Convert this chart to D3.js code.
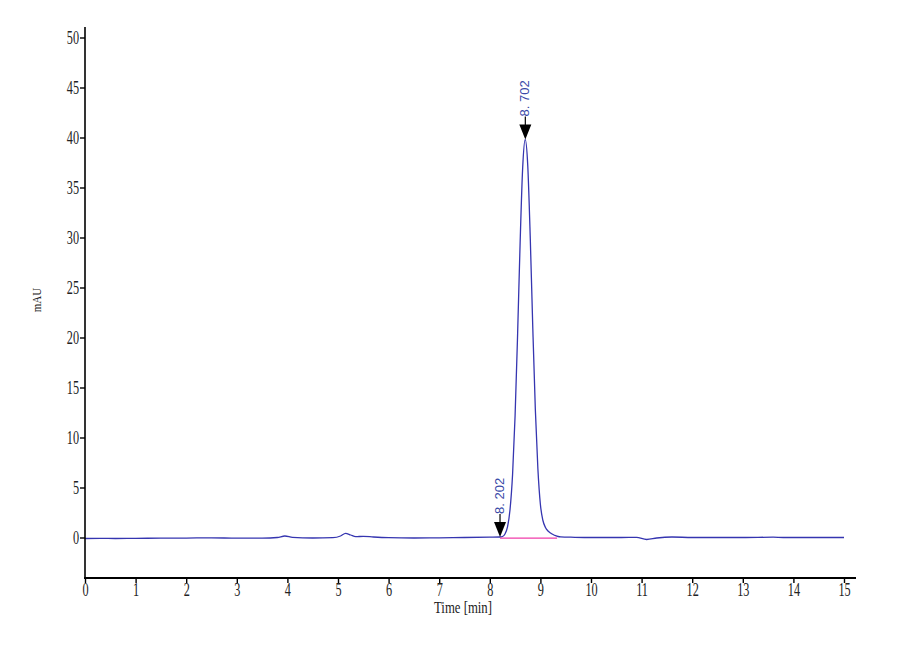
<!DOCTYPE html>
<html><head><meta charset="utf-8">
<script src="https://cdn.jsdelivr.net/npm/d3@7"></script>
<style>body{margin:0;background:#fff}svg{display:block}</style>
</head><body>
<svg id="c" width="900" height="660"></svg>
<script>
// Data
const times = [0,0.3,0.6,1.0,1.5,2.0,2.5,3.0,3.5,3.8,3.95,4.1,4.5,4.9,5.05,5.15,5.25,5.35,5.5,5.7,6.0,6.5,7.0,7.5,8.0,8.2,
  8.25,8.3,8.35,8.4,8.45,8.5,8.55,8.6,8.65,8.7,8.75,8.8,8.85,8.9,8.95,9.0,9.05,9.1,9.15,9.2,9.25,9.3,9.35,9.4,9.5,9.6,
  10.0,10.6,10.9,11.1,11.3,11.6,12.0,13.0,13.6,13.8,15.0];
const signal = [-0.1,-0.08,-0.1,-0.08,-0.07,-0.06,-0.03,-0.07,-0.06,0.0,0.15,0.02,-0.05,-0.02,0.15,0.42,0.25,0.08,0.12,0.05,-0.02,-0.05,-0.03,0.0,0.03,0.05,
  0.1,0.35,1.07,2.8,6.3,12.2,20.4,29.6,37.0,39.8,37.2,29.9,20.9,12.8,6.9,3.3,1.7,1.0,0.65,0.45,0.3,0.18,0.1,0.06,0.04,0.03,
  0.0,0.0,0.02,-0.2,-0.05,0.05,0.0,0.0,0.03,0.0,0.0];
const peakTimes = [8.202, 8.702];
const peakHeights = [0.05, 39.8];
const peakLabels = ["8. 202", "8. 702"];
const baselineRange = [8.202, 9.33];
const xTicks = [0,1,2,3,4,5,6,7,8,9,10,11,12,13,14,15];
const yTicks = [0,5,10,15,20,25,30,35,40,45,50];

const pts = times.map((t,i)=>({t, v: signal[i]}));

const svg = d3.select("#c");
const x = d3.scaleLinear().domain([0,15]).range([85,844]);
const y = d3.scaleLinear().domain([0,50]).range([537.5,37.5]);

const serif = "'Liberation Serif','DejaVu Serif',serif";

const line = d3.line().x(d=>x(d.t)).y(d=>y(d.v)).curve(d3.curveMonotoneX);
svg.append("path").datum(pts).attr("d",line).attr("fill","none")
  .attr("stroke","#3535b0").attr("stroke-width",1.3);
svg.append("line").attr("x1",x(baselineRange[0])).attr("x2",x(baselineRange[1]))
  .attr("y1",y(0)+0.6).attr("y2",y(0)+0.6).attr("stroke","#f03caa").attr("stroke-width",1.4);

// axes lines
svg.append("line").attr("x1",85).attr("x2",85).attr("y1",27).attr("y2",578).attr("stroke","#000").attr("stroke-width",1.6);
svg.append("line").attr("x1",84).attr("x2",856).attr("y1",578).attr("y2",578).attr("stroke","#000").attr("stroke-width",1.8);

const yAx = svg.append("g").attr("transform","translate(85,0)")
  .call(d3.axisLeft(y).tickValues(yTicks).tickSize(5).tickFormat(d3.format("d")));
const xAx = svg.append("g").attr("transform","translate(0,578)")
  .call(d3.axisBottom(x).tickValues(xTicks).tickSize(5).tickFormat(d3.format("d")));
[yAx,xAx].forEach(g=>{
  g.select(".domain").remove();
  g.selectAll(".tick line").attr("stroke","#000").attr("stroke-width",1.4);
  g.selectAll(".tick text").attr("font-family",serif).attr("font-size",18).attr("fill","#222");
});
yAx.selectAll(".tick text").attr("x",0).attr("dy","0.34em")
  .attr("transform","translate(-6,0) scale(0.68,1)").attr("text-anchor","end");
xAx.selectAll(".tick text").attr("y",0).attr("dy",0)
  .attr("transform","translate(0,18) scale(0.68,1)");

// axis titles
svg.append("text").attr("transform","translate(463,613) scale(0.75,1)").attr("text-anchor","middle")
  .attr("font-family",serif).attr("font-size",17).attr("fill","#222").text("Time [min]");
svg.append("text").attr("transform","translate(41,300) rotate(-90) scale(0.85,1)").attr("text-anchor","middle")
  .attr("font-family",serif).attr("font-size",13).attr("fill","#222").text("mAU");

// peak markers
const pk = svg.selectAll("g.pk").data(peakTimes.map((t,i)=>({t, h:peakHeights[i], lab:peakLabels[i]})))
  .enter().append("g").attr("class","pk");
pk.append("path").attr("d",d=>{
  const px=x(d.t), py=y(d.h);
  return `M${px-6},${py-15}L${px+6},${py-15}L${px},${py}Z`;
}).attr("fill","#000");
pk.append("line").attr("x1",d=>x(d.t)).attr("x2",d=>x(d.t))
  .attr("y1",d=>y(d.h)-23).attr("y2",d=>y(d.h)-14).attr("stroke","#000").attr("stroke-width",1.2);
pk.append("text").attr("transform",d=>`translate(${x(d.t)+4},${y(d.h)-23}) rotate(-90)`)
  .attr("font-family","'Liberation Sans',Arial,sans-serif").attr("font-size",13).attr("fill","#3a4aa8")
  .text(d=>d.lab);
</script>
</body></html>
